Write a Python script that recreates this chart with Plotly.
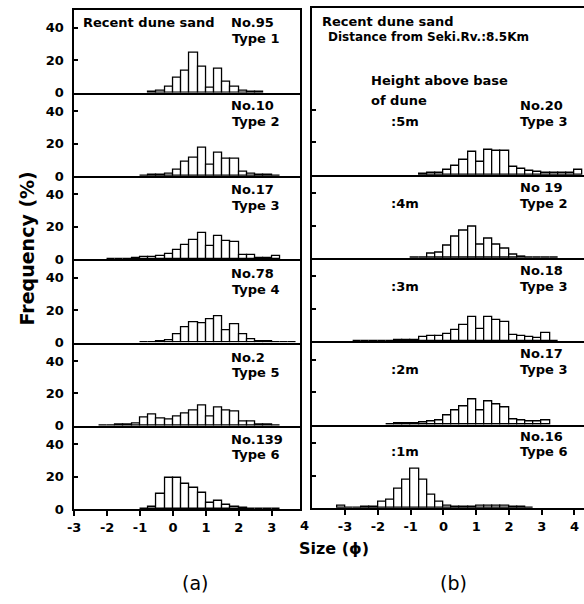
import plotly.graph_objects as go

BIN = 0.25  # class interval, phi units

# (a) Recent dune sand: sample, type, first class lower limit, frequency (%) per class
a_labels = ["No.95", "No.10", "No.17", "No.78", "No.2", "No.139"]
a_types = ["Type 1", "Type 2", "Type 3", "Type 4", "Type 5", "Type 6"]
a_starts = [-0.75, -1.0, -2.0, -1.0, -2.25, -1.0]
no95 = [0.3, 1.0, 3.9, 9.3, 13.5, 24.8, 15.8, 3.0, 14.5, 6.9, 3.8, 1.0, 0.6, 0.3]
no10 = [0.3, 0.5, 0.8, 1.6, 3.8, 8.5, 11.1, 17.2, 6.9, 14.3, 10.9, 10.5, 2.4, 1.6, 1.0, 0.5, 0.3]
no17a = [0.2, 0.3, 0.3, 0.5, 1.3, 1.4, 1.9, 3.2, 5.9, 8.9, 11.9, 16.2, 8.1, 14.3, 11.3, 10.5,
         2.8, 2.8, 1.0, 1.0, 1.8]
no78 = [0.2, 0.3, 0.5, 1.6, 4.8, 9.3, 12.3, 11.7, 14.1, 16.2, 7.7, 11.3, 4.8, 2.2, 0.8, 0.5,
        0.4, 0.3, 0.3]
no2 = [0.3, 0.4, 0.5, 0.5, 1.6, 5.2, 7.0, 4.6, 3.6, 5.7, 7.4, 9.6, 12.8, 6.0, 11.2, 9.4, 8.9,
       2.8, 2.6, 1.1, 0.5, 0.3]
no139 = [0.3, 1.3, 9.7, 19.3, 19.3, 15.8, 13.2, 9.8, 4.1, 5.2, 2.7, 1.4, 0.6, 0.4, 0.4, 0.3, 0.3]
a_values = [no95, no10, no17a, no78, no2, no139]

# (b) Dune profile 8.5 km from Seki River, by height above base of dune
b_labels = ["No.20", "No 19", "No.18", "No.17", "No.16"]
b_types = ["Type 3", "Type 2", "Type 3", "Type 3", "Type 6"]
b_heights = [":5m", ":4m", ":3m", ":2m", ":1m"]
b_starts = [-0.75, -1.0, -2.75, -1.75, -3.25]
no20 = [0.6, 0.8, 1.0, 2.9, 5.7, 9.4, 14.2, 7.6, 15.4, 14.7, 14.7, 4.8, 3.6, 2.4, 1.6, 1.0,
        0.8, 0.8, 1.0, 3.2]
no19 = [0.4, 0.5, 2.7, 3.5, 7.7, 13.0, 16.7, 19.1, 8.1, 12.0, 8.3, 5.6, 1.9, 0.8, 0.5, 0.5,
        0.4, 0.4]
no18 = [0.3, 0.3, 0.3, 0.4, 0.5, 0.7, 0.9, 1.0, 3.0, 3.5, 3.1, 4.5, 6.8, 10.3, 15.3, 7.8,
        14.9, 12.9, 12.0, 3.7, 3.5, 2.4, 2.2, 5.3, 0.5]
no17b = [0.4, 0.6, 0.8, 1.0, 1.6, 2.2, 3.0, 5.7, 8.9, 11.3, 15.8, 9.0, 14.3, 12.6, 10.7, 3.5,
         3.0, 2.0, 2.2, 2.8]
no16 = [1.5, 0.4, 0.5, 0.8, 0.9, 3.8, 5.0, 12.1, 17.4, 24.4, 17.7, 8.4, 4.0, 1.2, 1.0, 0.8,
        0.8, 1.3, 1.3, 1.3, 1.3, 1.0, 0.8, 0.4]
b_values = [no20, no19, no18, no17b, no16]

x_ticks = [-3, -2, -1, 0, 1, 2, 3, 4]
y_ticks = [0, 20, 40]

# ---- page geometry (pixels) ----
W, H = 584, 604
PX_PER_PCT = 1.645
L_X = (68, 297)
R_X = (309, 584)
L_BASE = [94, 178.4, 262.8, 347.2, 431.6, 516]
L_TOP = [10] + L_BASE[:-1]
R_BASE = [177, 261.5, 346, 430.5, 515]
R_TOP = [8] + R_BASE[:-1]
L_RANGE = [-3, 3.87]
R_RANGE = [-4.0, 4.29]
TEXT_DX = -5  # annotation box padding compensation

FONT = "DejaVu Sans"
fig = go.Figure()
layout = dict(
    width=W, height=H, margin=dict(l=0, r=0, t=0, b=0),
    paper_bgcolor="white", plot_bgcolor="white", showlegend=False,
    bargap=0, font=dict(family=FONT, color="black", size=12, weight="bold"),
)
annotations = []


def px(xp, yp):
    return xp / W, 1 - yp / H


def note(text, xp, yp, size=12, anchor="left", angle=0, weight="bold"):
    if anchor == "left":
        xp += TEXT_DX
    x, y = px(xp, yp)
    annotations.append(dict(
        text=text, x=x, y=y, xref="paper", yref="paper", showarrow=False,
        xanchor=anchor, yanchor="middle", textangle=angle,
        font=dict(family=FONT, size=size, color="black", weight=weight)))


def add_panel(k, start, vals, xdom, top, base, xrange, left_side, first, last):
    xs = [start + BIN / 2 + BIN * i for i in range(len(vals))]
    fig.add_trace(go.Bar(
        x=xs, y=vals, width=BIN, xaxis=f"x{k}", yaxis=f"y{k}",
        marker=dict(color="white", line=dict(color="black", width=1.3)),
        hoverinfo="skip"))
    ticks_x = [t for t in x_ticks if xrange[0] - 1e-9 <= t <= xrange[1]]
    layout[f"xaxis{k}"] = dict(
        domain=[xdom[0] / W, xdom[1] / W], range=xrange, anchor=f"y{k}",
        showline=True, linecolor="black", linewidth=2, mirror=first,
        showgrid=False, zeroline=False,
        ticks="outside" if last else "", ticklen=5, tickwidth=1.5, tickcolor="black",
        tickvals=ticks_x, ticktext=[str(t) for t in ticks_x],
        showticklabels=last, tickfont=dict(size=13, family=FONT, weight="bold"),
    )
    layout[f"yaxis{k}"] = dict(
        domain=[1 - base / H, 1 - top / H], range=[0, (base - top) / PX_PER_PCT],
        anchor=f"x{k}", showline=True, linecolor="black", linewidth=1.5,
        mirror=left_side, showgrid=False, zeroline=False,
        ticks="inside", ticklen=4, tickwidth=1.5, tickcolor="black",
        tickvals=y_ticks, showticklabels=left_side, ticklabelstandoff=6,
        tickfont=dict(size=13, family=FONT, weight="bold"),
    )


for i in range(6):
    add_panel(i + 1, a_starts[i], a_values[i], L_X, L_TOP[i], L_BASE[i], L_RANGE,
              True, i == 0, i == 5)
for j in range(5):
    add_panel(7 + j, b_starts[j], b_values[j], R_X, R_TOP[j], R_BASE[j], R_RANGE,
              False, j == 0, j == 4)

# the "4" of the left size scale sits just past the frame edge: place it on the
# same linear scale as the left axis, level with the other tick labels
x4 = (L_X[0] + (4 - L_RANGE[0]) / (L_RANGE[1] - L_RANGE[0]) * (L_X[1] - L_X[0])) / W
annotations.append(dict(text=str(x_ticks[-1]), x=x4, y=1 - 533 / H, xref="paper",
                        yref="paper", showarrow=False, xanchor="center",
                        yanchor="middle",
                        font=dict(family=FONT, size=13, color="black", weight="bold")))

# panel (a) captions
note("Recent dune sand", 80, 23, 13)
a_label_y = [23, 107, 192, 277, 362, 445]
for lab, typ, yl in zip(a_labels, a_types, a_label_y):
    note(lab, 230, yl, 13)
    note(typ, 231, yl + 16, 13)

# panel (b) captions
note("Recent dune sand", 322, 22, 13)
note("Distance from Seki.Rv.:8.5Km", 328, 37, 12)
note("Height above base", 371, 82, 13)
note("of dune", 371, 102, 13)
b_label_y = [107, 190, 274, 358, 442]
for lab, typ, hgt, yl in zip(b_labels, b_types, b_heights, b_label_y):
    note(lab, 522, yl, 13)
    note(typ, 522, yl + 16, 13)
    note(hgt, 392, yl + 16, 13)

# axis titles and part letters
note("Frequency (%)", 20, 252, 19, anchor="center", angle=-90)
note("Size (\u03d5)", 331, 556, 16, anchor="center")
note("(a)", 190, 591, 19, anchor="center", weight="normal")
note("(b)", 452, 591, 19, anchor="center", weight="normal")

layout["annotations"] = annotations
fig.update_layout(**layout)
fig.write_html("out.html")
